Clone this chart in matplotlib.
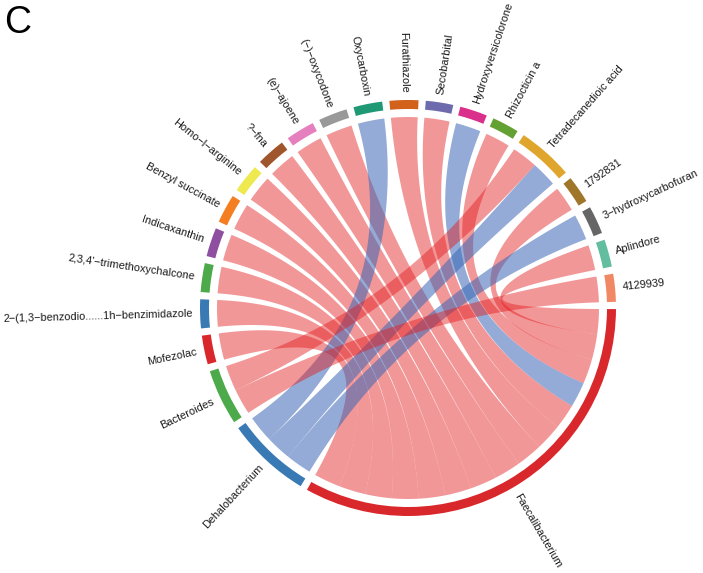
import numpy as np
import matplotlib.pyplot as plt
from matplotlib.patches import Wedge, Polygon

plt.rcParams['font.family'] = ['Liberation Sans', 'DejaVu Sans']

# sectors, clockwise from the right-hand side
bacteria = ["Faecalibacterium", "Dehalobacterium", "Bacteroides"]
metabolites = ["Mofezolac", "2\u2212(1,3\u2212benzodio......1h\u2212benzimidazole",
               "2,3,4'\u2212trimethoxychalcone", "Indicaxanthin", "Benzyl succinate",
               "Homo\u2212l\u2212arginine", "?\u2212fna", "(e)\u2212ajoene", "(\u2212)\u2212oxycodone",
               "Oxycarboxin", "Furathiazole", "Secobarbital", "Hydroxyversicolorone",
               "Rhizocticin a", "Tetradecanedioic acid", "1792831",
               "3\u2212hydroxycarbofuran", "Aplindore", "4129939"]

bacteria_colors = ["#D9282C", "#3A7AB4", "#4DAA4A"]
metabolite_colors = ["#D9282C", "#3A7AB4", "#4DAA4A", "#8E4FA0", "#F57F20",
                     "#EDE94E", "#A0562C", "#E57FBE", "#999999", "#1F9975",
                     "#D2611C", "#6E6AAE", "#DA2F8A", "#64A133", "#E0A52C",
                     "#A0762B", "#666666", "#62BE9E", "#F08866"]

# bacterium - metabolite correlations (sign gives colour, size gives width)
link_bacteria = ["Faecalibacterium"] * 15 + ["Dehalobacterium"] * 3 + ["Bacteroides"] * 2
link_metabolites = ["Mofezolac", "2\u2212(1,3\u2212benzodio......1h\u2212benzimidazole",
                    "2,3,4'\u2212trimethoxychalcone", "Indicaxanthin", "Benzyl succinate",
                    "Homo\u2212l\u2212arginine", "?\u2212fna", "(e)\u2212ajoene", "(\u2212)\u2212oxycodone",
                    "Furathiazole", "Secobarbital", "Hydroxyversicolorone", "Rhizocticin a",
                    "1792831", "Aplindore",
                    "Oxycarboxin", "Tetradecanedioic acid", "3\u2212hydroxycarbofuran",
                    "Tetradecanedioic acid", "4129939"]
link_corr = [0.62, 0.62, 0.62, 0.62, 0.62, 0.62, 0.62, 0.62, 0.62,
             0.62, 0.59, -0.59, 0.58, 0.59, 0.59,
             -0.62, -0.60, -0.60,
             0.60, 0.60]

pos_color, neg_color = "#E41A1C", "#3A66B5"

fig = plt.figure(figsize=(7.03, 5.73), dpi=100)
ax = fig.add_axes([0, 0, 1, 1])
ax.set_xlim(0, 703)
ax.set_ylim(0, 573)
ax.axis("off")

cx, cy = 408, 265
r_out, track_w, r_link, r_lab = 208, 9, 191, 215.5
gap = 2.0

sectors = bacteria + metabolites
colors = dict(zip(sectors, bacteria_colors + metabolite_colors))
totals = {s: 0.0 for s in sectors}
for b, m, r in zip(link_bacteria, link_metabolites, link_corr):
    totals[b] += abs(r)
    totals[m] += abs(r)

unit = (360 - gap * len(sectors)) / sum(totals.values())
spans = {}
a = -0.3
for s in sectors:
    w = totals[s] * unit
    spans[s] = (a - w, a)
    a -= w + gap
mids = {s: (lo + hi) / 2 for s, (lo, hi) in spans.items()}

# place link ends inside each sector so the links fan out without crossing
ends = {}
for s in sectors:
    items = []
    for i, (b, m, r) in enumerate(zip(link_bacteria, link_metabolites, link_corr)):
        if s == b:
            items.append((i, m, abs(r)))
        elif s == m:
            items.append((i, b, abs(r)))
    items.sort(key=lambda t: (spans[s][1] - mids[t[1]]) % 360, reverse=True)
    cur = spans[s][1]
    for i, other, v in items:
        w = v * unit
        ends[(i, s)] = (cur - w, cur)
        cur -= w


def pt(deg, r=r_link):
    t = np.radians(deg)
    return np.array([r * np.cos(t), r * np.sin(t)])


def arc(d0, d1, n=30):
    return np.array([pt(d) for d in np.linspace(d0, d1, n)])


def bezier(d0, d1, n=80):
    p0, p2 = pt(d0), pt(d1)
    t = np.linspace(0, 1, n)[:, None]
    return (1 - t) ** 2 * p0 + t ** 2 * p2


for i, (b, m, r) in enumerate(zip(link_bacteria, link_metabolites, link_corr)):
    a0, a1 = ends[(i, m)]
    b0, b1 = ends[(i, b)]
    pts = np.vstack([arc(a0, a1), bezier(a1, b0), arc(b0, b1), bezier(b1, a0)])
    pts = pts + [cx, cy]
    ax.add_patch(Polygon(pts, closed=True, fc=pos_color if r > 0 else neg_color,
                         alpha=0.45 if r > 0 else 0.55, ec="none", lw=0))

for s in sectors:
    lo, hi = spans[s]
    ax.add_patch(Wedge((cx, cy), r_out, lo, hi, width=track_w, fc=colors[s], ec="none"))
    mid = mids[s] % 360
    x, y = np.array([cx, cy]) + pt(mid, r_lab)
    if mid <= 90 or mid > 270:
        rot, ha = (mid + 180) % 360 - 180, "left"
    else:
        rot, ha = mid - 180, "right"
    ax.text(x, y, s, rotation=rot, ha=ha, va="center", rotation_mode="anchor",
            fontsize=7.9, color="#1a1a1a")

ax.text(4, 568, "C", fontsize=27, ha="left", va="top")

fig.savefig("out.png", dpi=100)
